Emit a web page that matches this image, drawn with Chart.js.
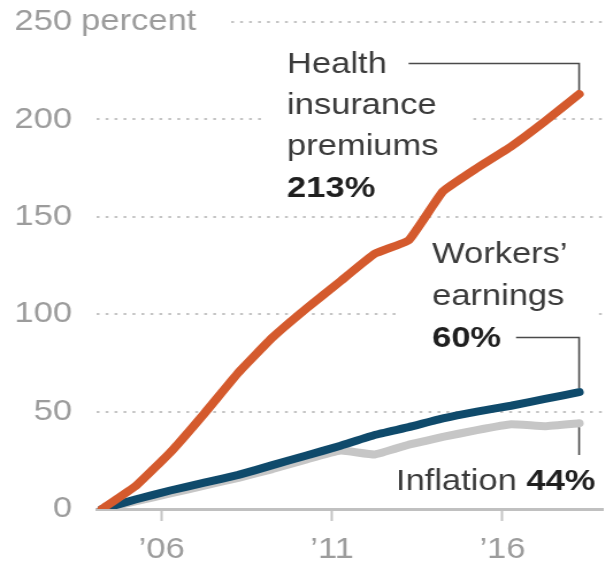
<!DOCTYPE html>
<html>
<head>
<meta charset="utf-8">
<script src="https://cdn.jsdelivr.net/npm/chart.js@4"></script>
<style>
  html, body { margin: 0; padding: 0; background: #fff; overflow: hidden; }
  /* the graphic is drawn narrow and widened a little, like the printed version */
  #wrap { width: 532px; height: 565px; transform: scaleX(1.15); transform-origin: 0 0; }
</style>
</head>
<body>
<div id="wrap"><canvas id="costChart"></canvas></div>
<script>
// cumulative growth since 2004, percent
const years = [2004, 2005, 2006, 2007, 2008, 2009, 2010, 2011, 2012, 2013, 2014, 2015, 2016, 2017, 2018];
const premiums = [0, 12, 29, 49, 70, 88, 103, 117, 131, 138, 163, 175, 186, 199, 213];
const earnings = [0, 5, 9.5, 13.5, 17.5, 22.5, 27.5, 32.5, 38, 42, 46.5, 50, 53, 56.5, 60];
const inflation = [0, 4, 8, 12, 16, 20.5, 25.5, 30, 28, 33, 37, 40.5, 43.5, 42.5, 44];
const tickYears = [2006, 2011, 2016];

// survey figures are taken in spring, so each point sits a quarter into its year
const surveyMonth = 3;

const FONT = '"Liberation Sans", Arial, Helvetica, sans-serif';
const ORANGE = '#d45a2d';
const BLUE = '#0f4a6b';
const GRAY = '#c6c6c6';
const last = years.length - 1;

function points(values) {
    return years.map((yr, i) => ({ x: yr + surveyMonth / 12, y: values[i] }));
}

function textLine(ctx, parts, x, y) {
    let cx = x;
    parts.forEach(([txt, bold]) => {
        ctx.font = (bold ? 'bold ' : '') + '30px ' + FONT;
        ctx.fillStyle = bold ? '#1f1f1f' : '#3b3b3b';
        ctx.fillText(txt, cx, y);
        cx += ctx.measureText(txt).width;
    });
    return cx;
}

function lineWidthOf(ctx, parts) {
    let w = 0;
    parts.forEach(([txt, bold]) => {
        ctx.font = (bold ? 'bold ' : '') + '30px ' + FONT;
        w += ctx.measureText(txt).width;
    });
    return w;
}

const healthNote = {
    left: 249.6,
    baselines: [73, 114, 155, 197],
    lines: [[['Health']], [['insurance']], [['premiums']], [[premiums[last] + '%', true]]]
};
const workersNote = {
    left: 375.7,
    baselines: [263, 305, 347],
    lines: [[['Workers\u2019']], [['earnings']], [[earnings[last] + '%', true]]]
};
const inflationNote = {
    left: 344.3,
    baselines: [490],
    lines: [[['Inflation '], [inflation[last] + '%', true]]]
};

function blockRight(ctx, note) {
    return note.left + Math.max(...note.lines.map(l => lineWidthOf(ctx, l)));
}

const seriesLabels = {
    id: 'seriesLabels',
    beforeDatasetsDraw(chart) {
        const ctx = chart.ctx;
        const ys = chart.scales.y;
        ctx.save();
        ctx.fillStyle = '#ffffff';
        // white under the label blocks so the dotted grid stops short of them
        ctx.fillRect(healthNote.left - 22, 40, blockRight(ctx, healthNote) - healthNote.left + 48, 165);
        ctx.fillRect(workersNote.left - 27, 236, blockRight(ctx, workersNote) - workersNote.left + 52, 118);
        // unit after the top tick
        ctx.font = '30px ' + FONT;
        const y250 = ys.getPixelForValue(250);
        const px = ys.right - 21.7 + 8;
        ctx.fillRect(px, y250 - 14, ctx.measureText('percent').width + 26, 28);
        ctx.fillStyle = '#9c9c9c';
        ctx.textBaseline = 'middle';
        ctx.fillText('percent', px, y250);
        ctx.restore();
    },
    afterDatasetsDraw(chart) {
        const ctx = chart.ctx;
        const xs = chart.scales.x;
        const ys = chart.scales.y;
        const endX = xs.getPixelForValue(years[last] + surveyMonth / 12);
        ctx.save();
        ctx.textBaseline = 'alphabetic';
        ctx.textAlign = 'left';

        const ends = {};
        [healthNote, workersNote, inflationNote].forEach((note, n) => {
            ends[n] = note.lines.map((l, i) => textLine(ctx, l, note.left, note.baselines[i]));
        });

        ctx.strokeStyle = '#4a4a4a';
        ctx.lineWidth = 1.6;

        // health: from the first word across and down to the line end
        let ly = healthNote.baselines[0] - 9.5;
        ctx.beginPath();
        ctx.moveTo(ends[0][0] + 19, ly);
        ctx.lineTo(endX, ly);
        ctx.lineTo(endX, ys.getPixelForValue(premiums[last]) - 4);
        ctx.stroke();

        // earnings: from the percentage
        ly = workersNote.baselines[2] - 9.5;
        ctx.beginPath();
        ctx.moveTo(ends[1][2] + 13, ly);
        ctx.lineTo(endX, ly);
        ctx.lineTo(endX, ys.getPixelForValue(earnings[last]) - 4);
        ctx.stroke();

        // inflation: short drop down toward its label
        ctx.beginPath();
        ctx.moveTo(endX, ys.getPixelForValue(inflation[last]) + 4);
        ctx.lineTo(endX, inflationNote.baselines[0] - 35);
        ctx.stroke();

        ctx.restore();
    }
};

Chart.defaults.font.family = FONT;

new Chart(
    document.getElementById('costChart'),
    {
        type: 'line',
        data: {
            datasets: [
                {
                    label: 'Health insurance premiums',
                    data: points(premiums),
                    borderColor: ORANGE,
                    borderWidth: 8,
                    borderCapStyle: 'round',
                    borderJoinStyle: 'round',
                    pointRadius: 0,
                    tension: 0.1
                },
                {
                    label: 'Workers\u2019 earnings',
                    data: points(earnings),
                    borderColor: BLUE,
                    borderWidth: 8,
                    borderCapStyle: 'round',
                    borderJoinStyle: 'round',
                    pointRadius: 0,
                    tension: 0.1
                },
                {
                    label: 'Inflation',
                    data: points(inflation),
                    borderColor: GRAY,
                    borderWidth: 8,
                    borderCapStyle: 'round',
                    borderJoinStyle: 'round',
                    pointRadius: 0,
                    tension: 0.1
                }
            ]
        },
        options: {
            responsive: true,
            maintainAspectRatio: false,
            animation: false,
            layout: {
                padding: { left: 0, right: 7.7, top: 22, bottom: 0 }
            },
            plugins: {
                legend: { display: false },
                tooltip: { enabled: false }
            },
            scales: {
                x: {
                    type: 'linear',
                    min: 2004.1,
                    max: 2018.95,
                    afterBuildTicks: (scale) => {
                        scale.ticks = tickYears.map(v => ({ value: v }));
                    },
                    afterFit: (scale) => { scale.height = 56; },
                    border: { display: true, color: '#c0c0c0', width: 3 },
                    grid: {
                        drawOnChartArea: false,
                        drawTicks: true,
                        tickLength: 12,
                        tickWidth: 2,
                        tickColor: '#c4c4c4'
                    },
                    ticks: {
                        padding: 11,
                        color: '#9c9c9c',
                        font: { size: 30 },
                        maxRotation: 0,
                        callback: (v) => '\u2019' + String(v).slice(2)
                    }
                },
                y: {
                    min: 0,
                    max: 250,
                    // fixed axis width; the label gap should not push the plot down
                    afterFit: (scale) => {
                        scale.width = 84.3;
                        scale.paddingTop = 0;
                        scale.paddingBottom = 0;
                    },
                    border: { display: false, dash: [2.5, 5.3] },
                    grid: {
                        drawTicks: false,
                        lineWidth: 2,
                        color: (c) => c.tick && c.tick.value === 0 ? 'rgba(0,0,0,0)' : '#c4c4c4'
                    },
                    ticks: {
                        stepSize: 50,
                        padding: 21.7,
                        color: '#9c9c9c',
                        font: { size: 30 }
                    }
                }
            }
        },
        plugins: [seriesLabels]
    }
);
</script>
</body>
</html>
